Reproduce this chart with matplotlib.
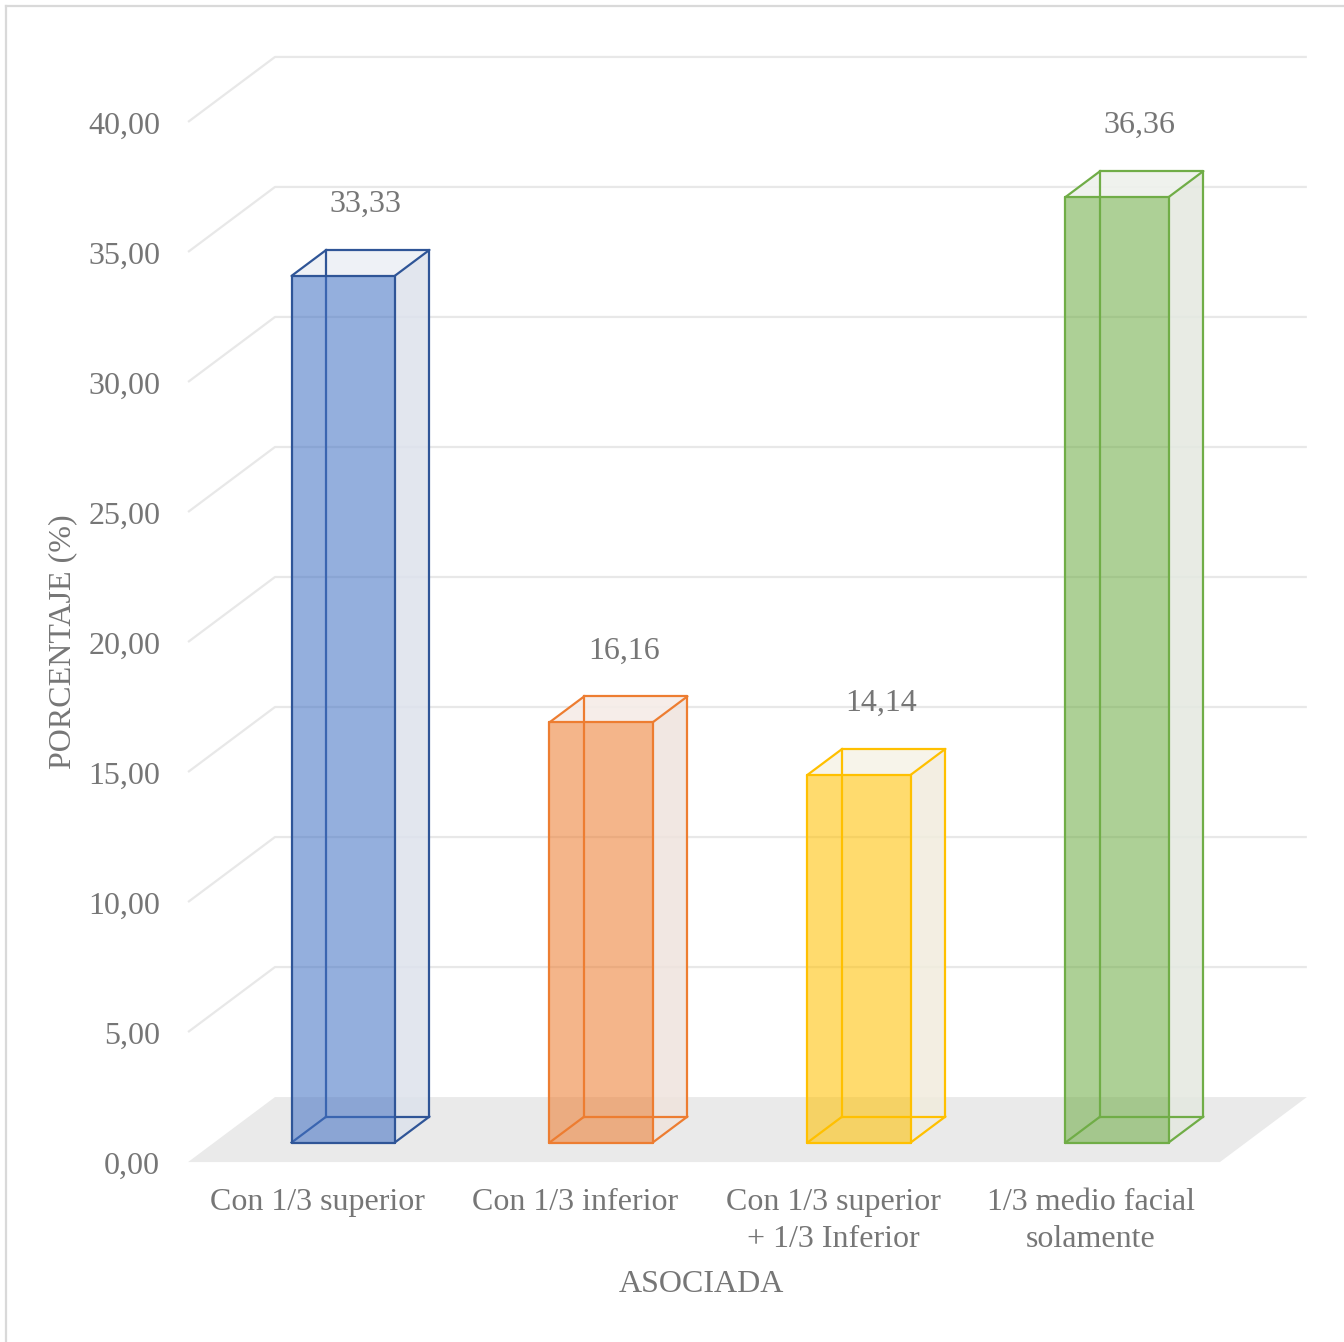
import matplotlib
matplotlib.use("Agg")
import matplotlib.pyplot as plt
from matplotlib.patches import Polygon
from matplotlib.lines import Line2D

# ---- data ----
categories = ["Con 1/3 superior", "Con 1/3 inferior",
              "Con 1/3 superior\n+ 1/3 Inferior", "1/3 medio facial\nsolamente"]
values = [33.33, 16.16, 14.14, 36.36]
value_labels = ["33,33", "16,16", "14,14", "36,36"]
y_ticks = [0, 5, 10, 15, 20, 25, 30, 35, 40]
y_tick_labels = ["0,00", "5,00", "10,00", "15,00", "20,00", "25,00", "30,00", "35,00", "40,00"]
x_title = "ASOCIADA"
y_title = "PORCENTAJE (%)"

# ---- styling ----
face_colors = ["#4472C4", "#ED7D31", "#FFC000", "#70AD47"]
edge_colors = ["#2F5597", "#ED7D31", "#FFC000", "#70AD47"]
side_colors = ["#DDE2EC", "#EFE3DD", "#F1ECDD", "#E4E8E0"]
top_colors = ["#EDF0F5", "#F5ECE7", "#F7F3E8", "#EEF1EC"]
text_color = "#767676"
grid_color = "#E8E8E8"
floor_color = "#EAEAEA"
plt.rcParams["font.family"] = ["Liberation Serif", "DejaVu Serif"]
FS = 23

# oblique projection of the depth axis (slot units, percent units)
DX = 0.337
DY = 2.5
BAR_W = 0.4
D0, D1 = 0.3, 0.7


def P(x, v, d):
    return (x + d * DX, v + d * DY)


fig = plt.figure(figsize=(13.44, 13.42), dpi=100)
ax = fig.add_axes([0, 0, 1, 1])
ax.set_xlim(-0.729, 4.481)
ax.set_ylim(-6.92, 44.69)
ax.axis("off")

n = len(categories)

# floor
floor = Polygon([P(0, 0, 0), P(0, 0, 1), P(n, 0, 1), P(n, 0, 0)],
                closed=True, facecolor=floor_color, edgecolor="none", zorder=1)
ax.add_patch(floor)

# gridlines along the side and back walls
for v in y_ticks[1:]:
    pts = [P(0, v, 0), P(0, v, 1), P(n, v, 1)]
    ax.plot([p[0] for p in pts], [p[1] for p in pts], color=grid_color,
            lw=1.6, zorder=0.5, solid_capstyle="butt")

# tick labels
for v, lab in zip(y_ticks, y_tick_labels):
    ax.text(-0.108, v - 0.15, lab, ha="right", va="center", fontsize=FS, color=text_color)

# bars
lw = 1.6
for i, (v, fc, ec, sc, tc) in enumerate(zip(values, face_colors, edge_colors,
                                            side_colors, top_colors)):
    x0 = i + 0.5 - BAR_W / 2
    x1 = i + 0.5 + BAR_W / 2
    z = 2 + i * 0.1
    # right side face
    ax.add_patch(Polygon([P(x1, 0, D0), P(x1, 0, D1), P(x1, v, D1), P(x1, v, D0)],
                         closed=True, facecolor=sc, alpha=0.85, edgecolor="none", zorder=z))
    # top face
    ax.add_patch(Polygon([P(x0, v, D0), P(x0, v, D1), P(x1, v, D1), P(x1, v, D0)],
                         closed=True, facecolor=tc, alpha=0.9, edgecolor="none", zorder=z))
    # hidden edges (seen through the transparent front)
    hidden = [
        (P(x0, 0, D1), P(x1, 0, D1)),
        (P(x0, 0, D1), P(x0, v, D1)),
        (P(x0, 0, D0), P(x0, 0, D1)),
    ]
    for a, b in hidden:
        ax.plot([a[0], b[0]], [a[1], b[1]], color=ec, lw=lw, zorder=z + 0.01)
    # front face
    ax.add_patch(Polygon([P(x0, 0, D0), P(x1, 0, D0), P(x1, v, D0), P(x0, v, D0)],
                         closed=True, facecolor=fc, alpha=0.57, edgecolor="none", zorder=z + 0.02))
    # visible edges
    visible = [
        (P(x0, 0, D0), P(x1, 0, D0)),
        (P(x0, v, D0), P(x1, v, D0)),
        (P(x0, 0, D0), P(x0, v, D0)),
        (P(x1, 0, D0), P(x1, v, D0)),
        (P(x1, 0, D1), P(x1, v, D1)),
        (P(x0, v, D1), P(x1, v, D1)),
        (P(x0, v, D0), P(x0, v, D1)),
        (P(x1, v, D0), P(x1, v, D1)),
        (P(x1, 0, D0), P(x1, 0, D1)),
    ]
    for a, b in visible:
        ax.plot([a[0], b[0]], [a[1], b[1]], color=ec, lw=lw, zorder=z + 0.03,
                solid_capstyle="round")

# value labels
for i, (v, lab) in enumerate(zip(values, value_labels)):
    lx, ly = P(i + 0.52, v, D1)
    ax.text(lx - 0.5 * DX * 0.4, ly + 1.75, lab, ha="center", va="center",
            fontsize=FS, color=text_color, zorder=5)

# category labels
for i, cat in enumerate(categories):
    ax.text(i + 0.5, -1.0, cat, ha="center", va="top", fontsize=FS,
            color=text_color, linespacing=1.37)

# axis titles
ax.text(1.99, -4.7, x_title, ha="center", va="center", fontsize=FS, color=text_color)
ax.text(-0.485, 20.0, y_title, ha="center", va="center", rotation=90,
        fontsize=FS, color=text_color)

# chart frame
fig.add_artist(Line2D([6 / 1344, 1.0], [1 - 6 / 1342, 1 - 6 / 1342],
                      color="#D9D9D9", lw=1.6, transform=fig.transFigure))
fig.add_artist(Line2D([6 / 1344, 6 / 1344], [0.0, 1 - 6 / 1342],
                      color="#D9D9D9", lw=1.6, transform=fig.transFigure))

fig.savefig("out.png", dpi=100, facecolor="white")
